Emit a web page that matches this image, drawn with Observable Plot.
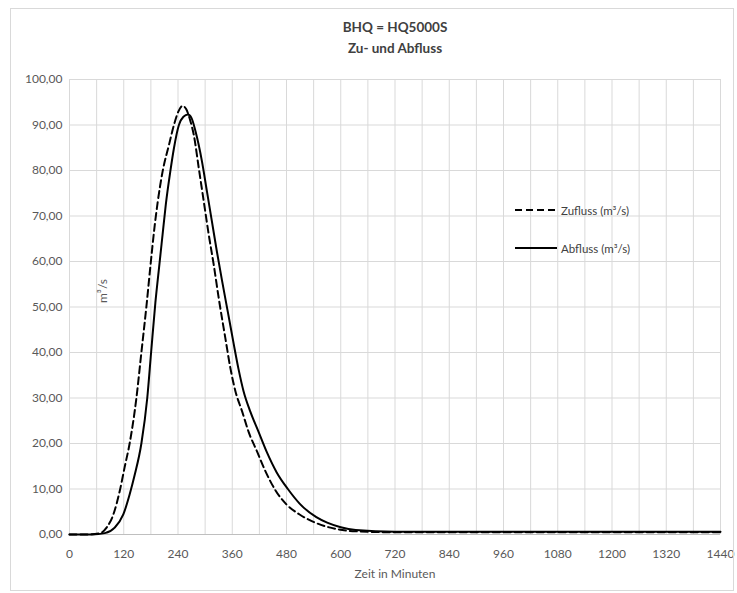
<!DOCTYPE html>
<html>
<head>
<meta charset="utf-8">
<script src="https://cdn.jsdelivr.net/npm/d3@7"></script>
<script src="https://cdn.jsdelivr.net/npm/@observablehq/plot@0.6"></script>
<style>
  html, body { margin: 0; padding: 0; background: #fff; }
  #wrap { position: relative; width: 737px; height: 593px; font-family: Lato, "Open Sans", sans-serif; }
  #border { position: absolute; left: 10px; top: 8px; width: 724px; height: 583px; border: 1px solid #d9d9d9; box-sizing: border-box; }
  #legend { position: absolute; left: 514px; top: 200px; font-size: 11.5px; color: #404040; }
  #legend .row { display: flex; align-items: center; height: 20px; margin-bottom: 18px; }
  #legend svg { margin-right: 3px; }
  svg.plot { position: absolute; left: 0; top: 0; }
</style>
</head>
<body>
<div id="wrap">
  <div id="border"></div>
</div>
<script>
// Series data (time in minutes, discharge in m³/s)
const zuflussTime  = [0, 40, 68, 82, 97, 111, 122, 133, 148, 159, 170, 180, 188, 195, 206, 220, 231, 241, 250, 258, 267, 275, 286, 297, 308, 319, 330, 345, 356, 367, 382, 396, 415, 433, 455, 480, 509, 546, 596, 633, 720, 1440];
const zuflussValue = [0, 0, 0.3, 1.5, 4.4, 9.5, 14.8, 20, 30, 40, 50, 60, 67.5, 73, 79.8, 85.6, 90, 93, 94.2, 93.5, 91, 87.8, 80.5, 73.2, 65.9, 59.3, 52, 43, 36.5, 31.5, 27, 22.6, 18.2, 14, 9.8, 6.6, 4.4, 2.5, 1.1, 0.7, 0.5, 0.5];

const abflussTime  = [0, 50, 78, 100, 119, 133, 144, 159, 172, 180.5, 190, 199, 206, 213, 223, 231, 242, 252, 262, 270, 279, 293, 304, 315, 326, 337, 351, 363, 374, 385, 400, 418, 436, 458, 483, 509, 546, 570, 600, 633, 720, 1440];
const abflussValue = [0, 0, 0.3, 1.5, 4.4, 8.8, 13, 20, 30, 40, 51, 59.5, 66, 72.5, 79.8, 84.9, 90, 91.8, 92.3, 91.5, 88.5, 82, 75.4, 68.8, 62.2, 56, 48.5, 42, 36.3, 31.5, 27, 22.6, 18.2, 13.7, 10, 6.8, 3.8, 2.6, 1.6, 1.0, 0.6, 0.6];

const xTicks = [0, 120, 240, 360, 480, 600, 720, 840, 960, 1080, 1200, 1320, 1440];
const xGrid = d3.range(0, 1441, 60);
const yTicks = [0, 10, 20, 30, 40, 50, 60, 70, 80, 90, 100];

const titleLines = ["BHQ = HQ5000S", "Zu- und Abfluss"];
const xLabel = "Zeit in Minuten";
const yLabel = "m³/s";
const seriesNames = ["Zufluss (m³/s)", "Abfluss (m³/s)"];

const zufluss = zuflussTime.map((t, i) => ({t, v: zuflussValue[i]}));
const abfluss = abflussTime.map((t, i) => ({t, v: abflussValue[i]}));

const fmtY = d => d.toFixed(2).replace(".", ",");
const fmtX = d => String(d);

const chart = Plot.plot({
  width: 737,
  height: 593,
  marginLeft: 69,
  marginRight: 17,
  marginTop: 79,
  marginBottom: 59,
  style: { fontFamily: "Lato, 'Open Sans', sans-serif", fontSize: "12px", color: "#595959", background: "transparent", overflow: "visible" },
  x: { domain: [0, 1440] },
  y: { domain: [0, 100] },
  marks: [
    Plot.gridX(xGrid, { stroke: "#d9d9d9", strokeOpacity: 1 }),
    Plot.gridY(yTicks, { stroke: "#d9d9d9", strokeOpacity: 1 }),
    Plot.axisX(xTicks, { tickSize: 0, tickPadding: 15, tickFormat: fmtX, label: null, fill: "#595959" }),
    Plot.axisY(yTicks, { tickSize: 0, tickPadding: 7, tickFormat: fmtY, label: null, fill: "#595959" }),
    Plot.ruleY([0], { stroke: "#bfbfbf" }),
    Plot.line(zufluss, { x: "t", y: "v", curve: "monotone-x", stroke: "#000", strokeWidth: 2, strokeDasharray: "7,4" }),
    Plot.line(abfluss, { x: "t", y: "v", curve: "monotone-x", stroke: "#000", strokeWidth: 2 }),
    Plot.text([titleLines[0]], { frameAnchor: "top", dy: -57, fontWeight: "bold", fontSize: 13.5, fill: "#404040" }),
    Plot.text([titleLines[1]], { frameAnchor: "top", dy: -36, fontWeight: "bold", fontSize: 13.5, fill: "#404040" }),
    Plot.text([xLabel], { frameAnchor: "bottom", dy: 43, fontSize: 12, fill: "#595959" }),
    Plot.text([yLabel], { frameAnchor: "left", dx: 34, dy: -4, rotate: -90, fontSize: 12, fill: "#595959" })
  ]
});
document.getElementById("wrap").appendChild(chart);

// Legend
const legend = document.createElement("div");
legend.id = "legend";
seriesNames.forEach((name, i) => {
  const row = document.createElement("div");
  row.className = "row";
  row.innerHTML = `<svg width="44" height="8"><line x1="1" y1="4" x2="43" y2="4" stroke="#000" stroke-width="2" ${i === 0 ? 'stroke-dasharray="7,4"' : ''}/></svg><span>${name}</span>`;
  legend.appendChild(row);
});
document.getElementById("wrap").appendChild(legend);
</script>
</body>
</html>
